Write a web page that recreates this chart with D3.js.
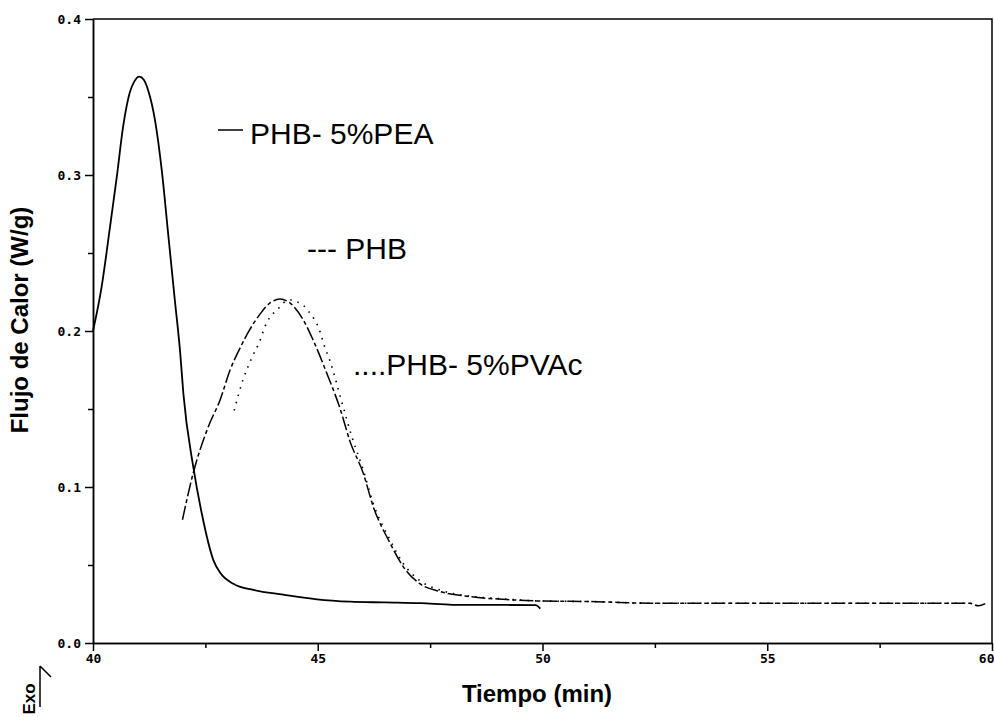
<!DOCTYPE html>
<html>
<head>
<meta charset="utf-8">
<script src="https://cdn.jsdelivr.net/npm/d3@7"></script>
<style>
    body { margin: 0; background: #fff; }
    svg { display: block; }
    .tick text { font-family: "DejaVu Sans Mono", monospace; font-weight: bold; font-size: 13px; }
    .legend { font-family: "Liberation Sans", Arial, sans-serif; font-size: 30px; }
    .title { font-family: "Liberation Sans", Arial, sans-serif; font-size: 24px; font-weight: bold; }
</style>
</head>
<body>
<div id="chart"></div>
<script>
// PHB- 5%PEA (solid)
const peaTime = [40.00, 40.19, 40.38, 40.53, 40.67, 40.82, 40.92, 41.03, 41.13, 41.23, 41.38, 41.53, 41.68, 41.82,
    41.94, 42.01, 42.23, 42.42, 42.68, 42.83, 43.12, 43.57, 44.23, 44.98, 45.72, 46.5, 47.3, 48.0, 49.0, 49.85, 49.95];
const peaFlow = [0.200, 0.228, 0.267, 0.299, 0.331, 0.353, 0.360, 0.363, 0.361, 0.354, 0.335, 0.303, 0.260, 0.220,
    0.186, 0.160, 0.113, 0.083, 0.053, 0.045, 0.038, 0.034, 0.031, 0.028, 0.0265, 0.026, 0.0255, 0.0245, 0.0244, 0.0243, 0.022];

// PHB (dashed)
const phbTime = [41.99, 42.23, 42.57, 42.83, 43.05, 43.27, 43.49, 43.72, 43.94, 44.16, 44.38, 44.68, 44.90, 45.20,
    45.50, 45.72, 46.01, 46.24, 46.61, 46.90, 47.27, 47.72, 48.39, 49.12, 49.87, 51.2, 52.4, 54, 56, 58, 59.5, 59.7, 59.85];
const phbFlow = [0.079, 0.109, 0.139, 0.156, 0.175, 0.189, 0.201, 0.211, 0.218, 0.2205, 0.218, 0.207, 0.194, 0.173,
    0.150, 0.129, 0.109, 0.087, 0.064, 0.049, 0.038, 0.033, 0.0297, 0.028, 0.027, 0.0265, 0.0255, 0.0255, 0.0255, 0.0255, 0.0255, 0.0238, 0.0252];

// PHB- 5%PVAc (dotted)
const pvacTime = [43.14, 43.34, 43.52, 43.73, 43.81, 43.94, 44.11, 44.23, 44.42, 44.53, 44.67, 44.79, 45.05, 45.14,
    45.27, 45.53, 45.75, 46.01, 46.24, 46.61, 46.9, 47.27, 47.72, 48.39, 49.12, 49.87, 51.2, 52.4, 54, 56, 58, 59.6];
const pvacFlow = [0.149, 0.169, 0.182, 0.195, 0.2017, 0.209, 0.2139, 0.218, 0.2199, 0.2188, 0.2167, 0.2128, 0.1996, 0.191,
    0.181, 0.155, 0.133, 0.111, 0.089, 0.066, 0.051, 0.040, 0.034, 0.030, 0.0283, 0.027, 0.0265, 0.0255, 0.0255, 0.0255, 0.0255, 0.0255];

const xMajor = [40, 45, 50, 55, 60];
const xMinor = [42.5, 47.5, 52.5, 57.5];
const yMajor = [0.0, 0.1, 0.2, 0.3, 0.4];
const yMinor = [0.05, 0.15, 0.25, 0.35];

const legendLabels = ["PHB- 5%PEA", "--- PHB", "....PHB- 5%PVAc"];

let width = 994,
    height = 717,
    margin = { top: 19, right: 2, bottom: 74, left: 93 };

let svg = d3
    .select("#chart")
    .append("svg")
    .attr("width", width)
    .attr("height", height);

let x = d3.scaleLinear().domain([40, 60]).range([margin.left, width - margin.right]);
let y = d3.scaleLinear().domain([0, 0.4]).range([height - margin.bottom, margin.top]);

// frame (top and right)
svg.append("path")
    .attr("d", `M${x(40)},${y(0.4)}H${x(60)}V${y(0)}`)
    .attr("fill", "none")
    .attr("stroke", "#000")
    .attr("stroke-width", 1.5);

// axes
let xAxis = svg
    .append("g")
    .attr("transform", `translate(0,${y(0)})`)
    .call(d3.axisBottom(x).tickValues(xMajor).tickFormat(d3.format("d")).tickSize(8).tickSizeOuter(0).tickPadding(3));
svg.append("g")
    .attr("transform", `translate(0,${y(0)})`)
    .call(d3.axisBottom(x).tickValues(xMinor).tickFormat("").tickSize(5).tickSizeOuter(0));

// last label sits against the page edge
xAxis.selectAll(".tick text").filter((d) => d === 60).attr("text-anchor", "end").attr("dx", 2);

let yAxis = svg
    .append("g")
    .attr("transform", `translate(${x(40)},0)`)
    .call(d3.axisLeft(y).tickValues(yMajor).tickFormat(d3.format(".1f")).tickSize(8).tickSizeOuter(0).tickPadding(4));
svg.append("g")
    .attr("transform", `translate(${x(40)},0)`)
    .call(d3.axisLeft(y).tickValues(yMinor).tickFormat("").tickSize(5).tickSizeOuter(0));

svg.selectAll(".domain, .tick line").attr("stroke", "#000").attr("stroke-width", 1.5);
svg.selectAll(".tick text").attr("fill", "#000");

// curves
let line = d3
    .line()
    .x((d) => x(d[0]))
    .y((d) => y(d[1]))
    .curve(d3.curveMonotoneX);

function addCurve(times, flows, dash, w) {
    svg.append("path")
        .datum(d3.zip(times, flows))
        .attr("d", line)
        .attr("fill", "none")
        .attr("stroke", "#000")
        .attr("stroke-width", w)
        .attr("stroke-dasharray", dash);
}

addCurve(peaTime, peaFlow, null, 1.8);
addCurve(phbTime, phbFlow, "14,3,4,3", 1.5);
addCurve(pvacTime, pvacFlow, "1.5,6", 1.6);

// legend
svg.append("line")
    .attr("x1", 218).attr("x2", 243)
    .attr("y1", 130).attr("y2", 130)
    .attr("stroke", "#000").attr("stroke-width", 1.5);

svg.selectAll("text.legend")
    .data(legendLabels)
    .enter()
    .append("text")
    .attr("class", "legend")
    .attr("x", (d, i) => [250, 307, 353][i])
    .attr("y", (d, i) => [144, 259, 375][i])
    .text((d) => d);

// axis titles
svg.append("text")
    .attr("class", "title")
    .attr("x", 537)
    .attr("y", 702)
    .attr("text-anchor", "middle")
    .text("Tiempo (min)");

svg.append("text")
    .attr("class", "title")
    .attr("transform", "translate(28,320) rotate(-90)")
    .attr("text-anchor", "middle")
    .text("Flujo de Calor (W/g)");

// Exo arrow
svg.append("text")
    .attr("class", "title")
    .style("font-size", "17px")
    .attr("transform", "translate(35,699) rotate(-90)")
    .attr("text-anchor", "middle")
    .text("Exo");

svg.append("path")
    .attr("d", "M40,707V666M40,666L51,677")
    .attr("fill", "none")
    .attr("stroke", "#000")
    .attr("stroke-width", 1.5);
</script>
</body>
</html>
